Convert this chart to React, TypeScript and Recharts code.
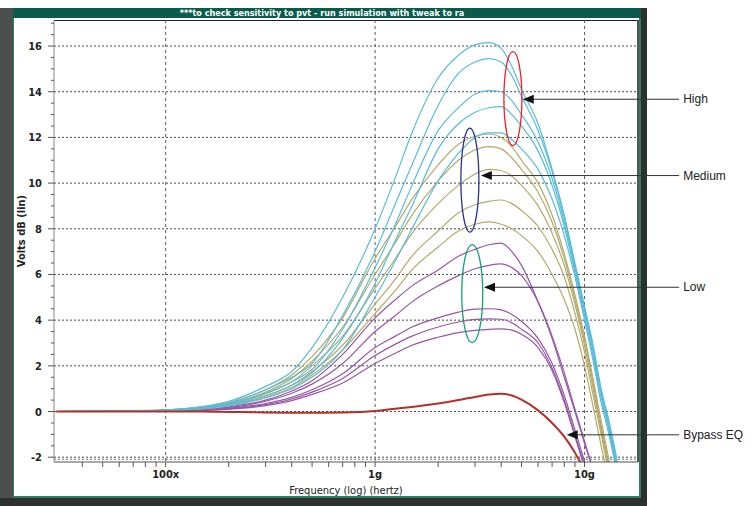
import React from 'react';
import { LineChart, Line, XAxis, YAxis, CartesianGrid, ReferenceLine, ReferenceDot } from 'recharts';

// frequency sweep (hertz)
const FREQ = [3e7, 5e7, 7e7, 1e8, 1.5e8, 2e8, 3e8, 4e8, 5e8, 7e8, 1e9, 1.25e9, 1.5e9, 2e9, 2.5e9, 3e9, 3.5e9, 4e9, 4.5e9, 5e9, 6e9, 7e9, 8e9, 9e9, 1e10, 1.1e10, 1.2e10, 1.3e10, 1.4e10, 1.5e10];

// "High" EQ runs (cyan)
const HIGH_1 = [0, 0.01, 0.03, 0.07, 0.22, 0.45, 1.1, 1.75, 2.8, 5.0, 8.0, 10.25, 12.2, 14.6, 15.6, 16.05, 16.15, 15.9, 15.1, 14.1, 12.6, 10.6, 8.6, 6.5, 4.6, 2.9, 1.0, -0.3, -1.7, -3.2];
const HIGH_2 = [0, 0.01, 0.02, 0.06, 0.19, 0.38, 0.95, 1.5, 2.1, 4.2, 7.0, 9.1, 10.8, 13.4, 14.8, 15.3, 15.45, 15.3, 14.7, 13.8, 12.3, 10.5, 8.5, 6.4, 4.5, 2.7, 0.9, -0.5, -1.9, -3.4];
const HIGH_3 = [0, 0.01, 0.02, 0.05, 0.16, 0.33, 0.8, 1.3, 1.85, 3.6, 6.3, 8.2, 9.9, 12.3, 13.3, 13.9, 14.05, 14.0, 13.6, 13.0, 11.8, 10.2, 8.3, 6.3, 4.4, 2.6, 0.8, -0.6, -2.0, -3.5];
const HIGH_4 = [0, 0.01, 0.02, 0.05, 0.14, 0.29, 0.7, 1.15, 1.7, 3.2, 5.6, 7.5, 9.0, 11.5, 12.6, 13.1, 13.3, 13.35, 13.0, 12.5, 11.4, 9.9, 8.1, 6.1, 4.2, 2.4, 0.6, -0.7, -2.1, -3.6];
const HIGH_5 = [0, 0.01, 0.02, 0.04, 0.12, 0.25, 0.6, 1.0, 1.5, 2.7, 5.0, 6.6, 8.0, 10.1, 11.3, 12.0, 12.2, 12.2, 11.9, 11.5, 10.6, 9.3, 7.7, 5.9, 4.0, 2.2, 0.4, -0.9, -2.3, -3.8];

// "Medium" EQ runs (olive)
const MED_1 = [0, 0.01, 0.03, 0.07, 0.2, 0.4, 0.95, 1.6, 2.4, 4.1, 6.7, 8.1, 9.3, 10.8, 11.7, 12.05, 12.15, 12.0, 11.6, 11.0, 10.0, 8.6, 6.9, 5.1, 3.3, 1.4, -0.4, -2.0, -3.5, -5.0];
const MED_2 = [0, 0.01, 0.03, 0.06, 0.18, 0.36, 0.85, 1.45, 2.2, 3.7, 6.0, 7.4, 8.6, 10.1, 11.0, 11.45, 11.6, 11.5, 11.1, 10.6, 9.6, 8.3, 6.7, 4.9, 3.1, 1.2, -0.6, -2.2, -3.7, -5.0];
const MED_3 = [0, 0.01, 0.02, 0.05, 0.15, 0.32, 0.78, 1.3, 2.0, 3.3, 5.4, 6.7, 7.8, 9.1, 9.9, 10.4, 10.6, 10.55, 10.3, 9.9, 9.0, 7.8, 6.4, 4.7, 2.9, 1.0, -0.8, -2.4, -3.9, -5.0];
const MED_4 = [0, 0.01, 0.02, 0.05, 0.13, 0.28, 0.68, 1.15, 1.75, 2.9, 4.7, 5.8, 6.8, 7.9, 8.7, 9.05, 9.2, 9.26, 9.1, 8.8, 8.1, 7.1, 5.9, 4.3, 2.6, 0.7, -1.0, -2.6, -4.0, -5.0];
const MED_5 = [0, 0.01, 0.02, 0.04, 0.12, 0.25, 0.62, 1.05, 1.6, 2.7, 4.3, 5.3, 6.2, 7.2, 7.9, 8.2, 8.3, 8.2, 8.0, 7.7, 7.0, 6.0, 4.9, 3.6, 2.0, 0.2, -1.5, -3.0, -4.4, -5.5];

// "Low" EQ runs (purple)
const LOW_1 = [0, 0, 0.01, 0.03, 0.1, 0.2, 0.5, 0.9, 1.35, 2.5, 4.1, 4.9, 5.5, 6.2, 6.8, 7.1, 7.3, 7.37, 7.0, 6.4, 4.8, 3.2, 1.5, 0.0, -1.4, -2.6, -4.0, -5.5, -7, -8];
const LOW_2 = [0, 0, 0.01, 0.03, 0.09, 0.18, 0.45, 0.8, 1.2, 2.1, 3.5, 4.2, 4.8, 5.5, 5.95, 6.25, 6.4, 6.46, 6.3, 5.95, 4.8, 3.3, 1.7, 0.1, -1.3, -2.6, -4.0, -5.5, -7, -8];
const LOW_3 = [0, 0, 0.01, 0.02, 0.07, 0.14, 0.35, 0.62, 0.95, 1.65, 2.8, 3.3, 3.7, 4.1, 4.35, 4.48, 4.5, 4.45, 4.25, 3.95, 3.2, 2.1, 0.7, -0.8, -2.2, -3.6, -5.0, -6.5, -8, -9];
const LOW_4 = [0, 0, 0.01, 0.02, 0.06, 0.12, 0.3, 0.55, 0.85, 1.45, 2.45, 2.95, 3.3, 3.7, 3.92, 4.03, 4.06, 4.04, 3.88, 3.6, 3.0, 1.9, 0.5, -1.0, -2.4, -3.8, -5.2, -6.5, -8, -9];
const LOW_5 = [0, 0, 0.01, 0.02, 0.05, 0.1, 0.26, 0.48, 0.75, 1.25, 2.1, 2.55, 2.9, 3.25, 3.45, 3.55, 3.6, 3.62, 3.56, 3.38, 2.8, 1.8, 0.4, -1.1, -2.5, -3.9, -5.2, -6.5, -8, -9];

// bypass (no EQ)
const BYPASS = [0, 0, 0, 0, 0, -0.02, -0.04, -0.05, -0.05, -0.04, 0.02, 0.12, 0.2, 0.35, 0.5, 0.64, 0.74, 0.78, 0.7, 0.52, 0.05, -0.5, -1.1, -1.8, -2.6, -3.5, -4.5, -5.5, -6.5, -7.5];

const X_MAJOR = [1e8, 1e9, 1e10];
const X_MAJOR_LABELS = ['100x', '1g', '10g'];
const X_MINOR = [4e7, 5e7, 6e7, 7e7, 8e7, 9e7, 2e8, 3e8, 4e8, 5e8, 6e8, 7e8, 8e8, 9e8, 2e9, 3e9, 4e9, 5e9, 6e9, 7e9, 8e9, 9e9];
const Y_GRID = [-2, 0, 2, 4, 6, 8, 10, 12, 14, 16];
const Y_TICKS = [-2, -1.5, -1, -0.5, 0, 0.5, 1, 1.5, 2, 2.5, 3, 3.5, 4, 4.5, 5, 5.5, 6, 6.5, 7, 7.5, 8, 8.5, 9, 9.5, 10, 10.5, 11, 11.5, 12, 12.5, 13, 13.5, 14, 14.5, 15, 15.5, 16, 16.5, 17];

// annotations
const NOTE_LABELS = ['High', 'Medium', 'Low', 'Bypass EQ'];
const NOTE_TIP_F = [5.07e9, 3.2e9, 3.31e9, 8.22e9];
const NOTE_V = [13.67, 10.33, 5.44, -1.02];
const NOTE_END_F = 2.83e10;
const RING_F = [4.55e9, 2.835e9, 2.91e9];
const RING_V = [13.7, 10.13, 5.16];
const RING_COLORS = ['#e8262a', '#27338f', '#16a07a'];
const RING_SIZE = [[9, 47], [9, 52], [10.5, 49]];

const CYAN = '#58bcda';
const OLIVE = '#b4aa6a';
const PURPLE = '#9657a6';
const RED = '#b3302b';

const series = [
    { key: 'l1', values: LOW_1, color: PURPLE },
    { key: 'l2', values: LOW_2, color: PURPLE },
    { key: 'l3', values: LOW_3, color: PURPLE },
    { key: 'l4', values: LOW_4, color: PURPLE },
    { key: 'l5', values: LOW_5, color: PURPLE },
    { key: 'm1', values: MED_1, color: OLIVE },
    { key: 'm2', values: MED_2, color: OLIVE },
    { key: 'm3', values: MED_3, color: OLIVE },
    { key: 'm4', values: MED_4, color: OLIVE },
    { key: 'm5', values: MED_5, color: OLIVE },
    { key: 'h1', values: HIGH_1, color: CYAN },
    { key: 'h2', values: HIGH_2, color: CYAN },
    { key: 'h3', values: HIGH_3, color: CYAN },
    { key: 'h4', values: HIGH_4, color: CYAN },
    { key: 'h5', values: HIGH_5, color: CYAN },
];

const data = FREQ.map((f, i) => {
    const row: Record<string, number> = { f, bypass: BYPASS[i] };
    series.forEach(s => { row[s.key] = s.values[i]; });
    return row;
});

const narrow = "'Liberation Sans Narrow', 'DejaVu Sans Condensed', 'Arial Narrow', sans-serif";

const YTick = (props: any) => {
    const { x, y, payload } = props;
    const v = payload.value;
    const major = v % 2 === 0 && v <= 16;
    return (
        <g>
            <line x1={x - (major ? 6 : 3)} x2={x} y1={y} y2={y} stroke="#555" />
            {major && (
                <text x={x - 12} y={y} dy={4} textAnchor="end" fontSize={11} fontWeight="bold" fontFamily={narrow} fill="#222">
                    {v}
                </text>
            )}
        </g>
    );
};

const xLabel = (v: number) => {
    const i = X_MAJOR.indexOf(v);
    return i >= 0 ? X_MAJOR_LABELS[i] : '';
};

const arrowShape = (text: string) => (props: any) => {
    const { x1, y1, x2, y2 } = props;
    return (
        <g>
            <line x1={x1 + 9} y1={y1} x2={x2} y2={y2} stroke="#333" strokeWidth={1} />
            <polygon points={`${x1},${y1} ${x1 + 11},${y1 - 4.5} ${x1 + 11},${y1 + 4.5}`} fill="#111" />
            <text x={x2 + 4} y={y2} dy={4} fontSize={12} fontFamily="'Liberation Sans', Arial, sans-serif" fill="#222">
                {text}
            </text>
        </g>
    );
};

const ringShape = (rx: number, ry: number, color: string) => (props: any) => (
    <ellipse cx={props.cx} cy={props.cy} rx={rx} ry={ry} fill="none" stroke={color} strokeWidth={1.3} />
);

const yAxisTitle = (props: any) => {
    const { viewBox } = props;
    const cx = viewBox.x + 21;
    const cy = 231;
    return (
        <text x={cx} y={cy} transform={`rotate(-90, ${cx}, ${cy})`} textAnchor="middle" dominantBaseline="central"
            fontSize={11} fontWeight="bold" fontFamily={narrow} fill="#222">
            Volts dB (lin)
        </text>
    );
};

const box = (s: React.CSSProperties): React.CSSProperties => ({ position: 'absolute', boxSizing: 'border-box', ...s });

export default function App() {
    return (
        <div style={{ position: 'absolute', left: 0, top: 0, width: 754, height: 506, background: '#fff', overflow: 'hidden' }}>
            {/* simulator window chrome */}
            <div style={box({ left: 0, top: 8, width: 13, height: 490, background: '#4b504e' })} />
            <div style={box({ left: 641, top: 8, width: 6, height: 492, background: '#2c312f' })} />
            <div style={box({ left: 0, top: 498, width: 647, height: 8, background: '#2c312f' })} />
            <div style={box({ left: 13, top: 18, width: 628, height: 480, background: '#fff', borderLeft: '1px solid #2f7d69', borderRight: '2px solid #2f7d69', borderBottom: '2px solid #2f7d69' })} />
            <div style={box({
                left: 13, top: 8, width: 628, height: 10, background: '#0b5b4c', color: '#fff',
                fontFamily: narrow, fontSize: 9, fontWeight: 'bold', lineHeight: '10px', textAlign: 'center', paddingRight: 10, whiteSpace: 'nowrap',
            })}>
                ***to check sensitivity to pvt - run simulation with tweak to ra
            </div>
            <div style={box({ left: 54, top: 20, width: 585, height: 442, borderTop: '1px solid #222', borderRight: '2px solid #555' })} />

            <LineChart
                width={754}
                height={506}
                data={data}
                margin={{ top: 20, right: 116, bottom: 0, left: 0 }}
                style={{ position: 'absolute', left: 0, top: 0 }}
            >
                <CartesianGrid horizontal={true} vertical={false} horizontalValues={Y_GRID} stroke="#4a4a4a" strokeDasharray="2 2" />
                <CartesianGrid horizontal={false} vertical={true} verticalValues={X_MAJOR} stroke="#5a5a5a" strokeDasharray="3 3" />
                <ReferenceLine y={-2.09} stroke="#777" strokeDasharray="2 2" />
                <XAxis
                    dataKey="f"
                    type="number"
                    scale="log"
                    domain={[2.93e7, 1.8e10]}
                    allowDataOverflow
                    ticks={[...X_MINOR, ...X_MAJOR].sort((a, b) => a - b)}
                    interval={0}
                    tickFormatter={xLabel}
                    tickSize={5}
                    tickMargin={3}
                    height={44}
                    stroke="#555"
                    tick={{ fill: '#222', fontSize: 11, fontWeight: 'bold', fontFamily: narrow }}
                    label={{ value: 'Frequency (log) (hertz)', position: 'insideBottom', offset: 12, fill: '#222', fontSize: 11, fontFamily: narrow }}
                />
                <YAxis
                    type="number"
                    domain={[-2.21, 17.14]}
                    allowDataOverflow
                    ticks={Y_TICKS}
                    interval={0}
                    width={54}
                    tickSize={0}
                    tickMargin={0}
                    tickLine={false}
                    stroke="#888"
                    tick={<YTick />}
                    label={{ content: yAxisTitle }}
                />
                {series.map(s => (
                    <Line key={s.key} type="monotone" dataKey={s.key} stroke={s.color} strokeWidth={1.2} dot={false} isAnimationActive={false} />
                ))}
                <Line type="monotone" dataKey="bypass" stroke={RED} strokeWidth={2} dot={false} isAnimationActive={false} />
                {RING_F.map((f, i) => (
                    <ReferenceDot key={'ring' + i} x={f} y={RING_V[i]} r={1} shape={ringShape(RING_SIZE[i][0], RING_SIZE[i][1], RING_COLORS[i])} />
                ))}
                {NOTE_LABELS.map((t, i) => (
                    <ReferenceLine
                        key={t}
                        segment={[{ x: NOTE_TIP_F[i], y: NOTE_V[i] }, { x: NOTE_END_F, y: NOTE_V[i] }]}
                        ifOverflow="visible"
                        shape={arrowShape(t)}
                    />
                ))}
            </LineChart>
        </div>
    );
}
